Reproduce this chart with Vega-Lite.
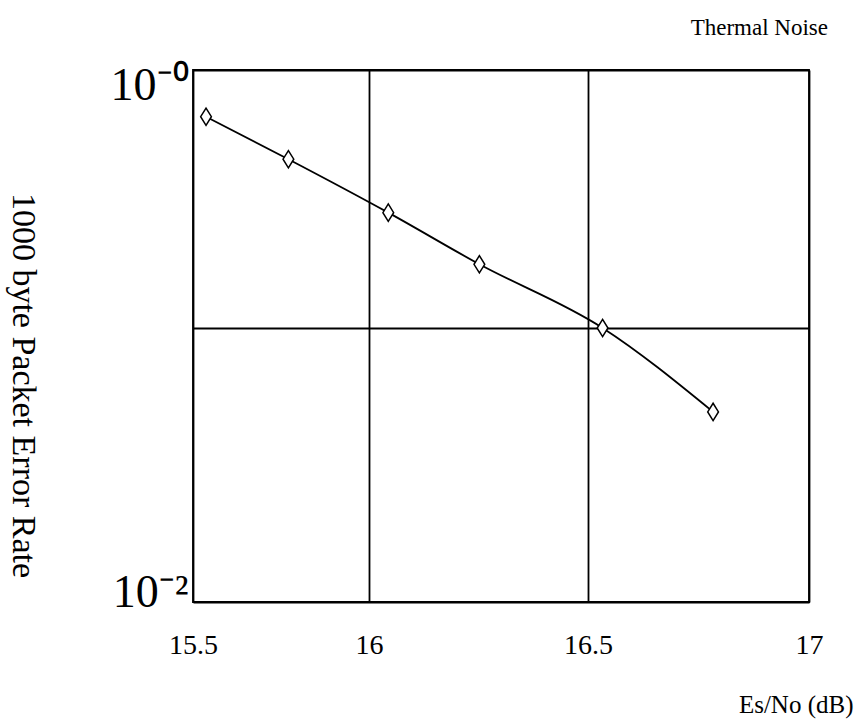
{
  "$schema": "https://vega.github.io/schema/vega-lite/v6.json",
  "autosize": {"type": "none"},
  "padding": {"left": 193, "top": 70, "right": 48, "bottom": 120},
  "width": 616,
  "height": 532,
  "background": "white",
  "config": {
    "view": {"stroke": "black", "strokeWidth": 1.8},
    "font": "Liberation Serif",
    "axis": {
      "domain": false,
      "ticks": false,
      "gridColor": "black",
      "gridOpacity": 1,
      "gridWidth": 1.8,
      "labelColor": "black",
      "titleColor": "black",
      "titleFontWeight": "normal",
      "labelFont": "Liberation Serif",
      "titleFont": "Liberation Serif"
    }
  },
  "title": {
    "text": "Thermal Noise",
    "anchor": "end",
    "frame": "group",
    "fontSize": 23,
    "fontWeight": "normal",
    "font": "Liberation Serif",
    "color": "black",
    "baseline": "alphabetic",
    "dx": 19,
    "dy": 23,
    "offset": 27
  },
  "data": {
    "values": [
      {"esno": 15.537, "per": 0.659},
      {"esno": 15.771, "per": 0.451},
      {"esno": 16.044, "per": 0.280},
      {"esno": 16.252, "per": 0.1766},
      {"esno": 16.533, "per": 0.100},
      {"esno": 16.783, "per": 0.0494}
    ]
  },
  "encoding": {
    "x": {
      "field": "esno",
      "type": "quantitative",
      "scale": {"type": "linear", "domain": [15.5, 16, 16.5, 17], "range": [0, 176, 395, 616], "nice": false, "zero": false},
      "axis": {
        "values": [15.5, 16, 16.5, 17],
        "format": "~g",
        "grid": true,
        "labelFontSize": 28,
        "labelPadding": 29,
        "labelFlush": false,
        "title": "Es/No (dB)",
        "titleFontSize": 25,
        "titleAnchor": "end",
        "titleAlign": "right",
        "titleBaseline": "middle",
        "titleX": 660,
        "titleY": 102
      }
    },
    "y": {
      "field": "per",
      "type": "quantitative",
      "scale": {"type": "log", "domain": [0.01, 0.1, 1], "range": [532, 258, 0], "nice": false},
      "axis": {
        "values": [0.01, 0.1, 1],
        "grid": true,
        "labelExpr": "datum.value > 0.5 ? '10⁻⁰' : (datum.value < 0.05 ? '10⁻²' : '')",
        "labelFontSize": 46,
        "labelPadding": 5,
        "labelFlush": false,
        "labelOffset": {"condition": {"test": "datum.value > 0.5", "value": 15}, "value": -10},
        "title": "1000 byte Packet Error Rate",
        "titleFontSize": 34,
        "titleAngle": 90,
        "titleAlign": "center",
        "titleBaseline": "middle",
        "titleX": -171,
        "titleY": 315
      }
    }
  },
  "layer": [
    {
      "mark": {"type": "line", "interpolate": "monotone", "color": "black", "strokeWidth": 1.8}
    },
    {
      "mark": {"type": "point", "shape": "M0,-1L0.62,0L0,1L-0.62,0Z", "size": 300, "filled": true, "fill": "white", "stroke": "black", "strokeWidth": 1.5, "opacity": 1}
    }
  ]
}
